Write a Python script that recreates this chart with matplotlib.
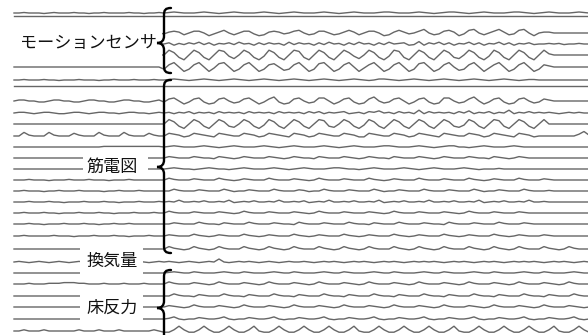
import numpy as np
import matplotlib.pyplot as plt
from matplotlib.path import Path
from matplotlib.patches import PathPatch, Rectangle

plt.rcParams['font.family'] = ['Noto Sans CJK JP', 'DejaVu Sans']

# samples are every 5 px starting at x=14; digit 4 = baseline, each step = gain px
x_start = 14
x_step = 5

# --- motion sensor (left part | right part)
motion_y = [13, 16, 33, 44, 55, 67]
motion_gain = [0.5, 0.0, 0.9, 0.6, 1.2, 1.1]
motion = [
    "44544 43454 44544 34454 44454 43445 | 45654 44565 43456 54445 65434 56544 45654 34565 44456 65444 56543 45665 43456 54445 66543 45654 44565 4",
    "44444 44444 44444 44444 44444 44444 | 44444 44444 44444 44444 44444 44444 44444 44444 44444 44444 44444 44444 44444 44444 44444 44444 44444 4",
    "44444 44444 44444 44444 44444 44444 | 35652 46641 35742 46631 25653 46742 36642 35752 46641 25753 46842 36751 37842 46852 37841 45544 44444 4",
    "44444 44444 44444 44444 44444 44444 | 46253 64736 25463 74526 36452 73645 26374 52637 45263 74562 38264 73625 47362 54736 25463 44545 34454 4",
    "44444 44444 44444 44444 44444 44444 | 48620 48620 48731 48620 38620 48720 48620 48631 48620 38720 48620 48621 48620 38620 48620 48544 44444 4",
    "44444 44444 44444 44444 44444 44444 | 26840 26840 37840 26840 26741 26840 27840 26840 36840 26840 27840 26841 26840 36840 26840 26544 44444 4",
]

# --- EMG
emg_y = [80, 86, 101, 113, 124, 136, 147, 158, 169, 180, 191, 202, 213, 224, 236, 249]
emg_gain = [0.5, 0.0, 1.0, 0.7, 1.1, 0.9, 0.6, 0.7, 0.6, 0.6, 0.6, 0.6, 0.6, 0.6, 0.6, 0.8]
emg = [
    "44544 45443 44454 44344 54445 44454 | 45654 34565 43456 54345 65434 56543 45654 34565 43466 54345 65434 56543 45654 34565 43455 44444 44444 4",
    "44444 44444 44444 44444 44444 44444 | 44444 44444 44444 44444 44444 44444 44444 44444 44444 44444 44444 44444 44444 44444 44444 44444 44444 4",
    "45544 33455 44334 55443 34554 43345 | 36741 36731 26742 36741 36831 26742 37741 36731 26842 36741 36731 27742 36841 36731 26742 36544 44444 4",
    "45543 45543 34554 34554 43455 44345 | 45354 63545 36454 53645 45364 54536 46354 56345 36574 53645 38364 54536 47354 63548 35464 54543 45454 4",
    "44444 44444 44444 44444 44444 44444 | 48620 48620 48621 48620 38620 48620 48721 48620 38620 48620 48620 48621 38620 48720 48620 48444 44444 4",
    "44854 44854 44754 44854 44854 44754 | 47653 47654 37654 47653 47654 37653 47654 47653 37654 47653 47654 37654 47653 47654 37653 44444 44469 5",
    "44444 44444 44444 44455 55555 55555 | 45654 44565 43456 54445 65434 56544 45654 34565 44456 65444 56543 45664 43456 54445 65444 44444 44444 4",
    "44444 44444 44444 44444 44444 44444 | 46544 46544 36543 46544 46543 46544 36544 46543 46544 36544 46543 46544 46544 36543 46544 44444 44444 4",
    "44444 44444 44444 44444 44444 44444 | 45654 43456 54434 56544 45654 34565 44456 65443 45654 44565 43456 54445 65434 44544 44444 44444 44444 4",
    "44454 44344 45444 54443 44454 44444 | 47544 46544 47543 46544 47544 46543 47544 46544 47543 46544 47544 46544 47543 46544 47544 46544 44444 4",
    "44544 43445 44454 44434 45444 54444 | 44754 44654 44753 44654 44754 44653 44754 44654 44753 44654 44754 44654 44753 44654 44754 44544 44444 4",
    "44454 44544 34445 44454 43444 54445 | 45474 45464 45473 45464 45474 45463 45474 45464 45473 45464 45474 45464 45473 45464 45474 45444 44444 4",
    "44544 45443 44454 44544 34445 44454 | 47544 46544 46543 47544 46544 46543 47544 46544 46543 47544 46544 46543 47544 46544 46544 44444 44444 4",
    "44454 43444 54445 44344 54454 44444 | 44654 44754 43654 44754 44654 43754 44654 44754 43654 44754 44654 43754 44654 44754 44654 44444 44444 4",
    "44544 44454 44344 45444 54434 44544 | 46544 47543 46544 47543 46544 47543 46544 47543 46544 47543 46544 47543 46544 47543 46544 46544 44444 4",
    "44444 44444 44444 44444 44444 44444 | 47543 47543 47544 47543 47543 47544 47543 47543 47544 47543 47543 47544 47543 47543 47544 47543 47544 4",
]

# --- ventilation
vent_y = [262]
vent_gain = [0.6]
vent = [
    "45434 54345 43454 34543 45434 54345 | 45434 54345 49434 54543 45434 54454 34545 43454 54345 45434 54545 43454 54345 45434 54545 43454 54345 4",
]

# --- floor reaction force
floor_y = [273, 284, 296, 307, 319, 331]
floor_gain = [0.6, 0.7, 0.7, 0.7, 0.7, 1.2]
floor = [
    "44444 44444 44444 44444 44444 44444 | 45654 46544 45654 46544 45654 46544 45654 46544 45654 46544 45654 46544 45654 46544 45654 46544 45654 4",
    "44454 44555 66655 44454 44544 45444 | 47544 46543 47544 46543 47544 46543 47544 46543 47544 46543 47544 46543 47544 46543 47544 46543 47544 4",
    "44444 44444 44444 44444 44444 44444 | 44754 43654 44754 43654 44754 43654 44754 43654 44754 43654 44754 43654 44754 43654 44754 43654 44754 4",
    "44444 44444 44444 44444 44444 44444 | 46543 47544 46543 47544 46543 47544 46543 47544 46543 47544 46543 47544 46543 47544 46543 47544 46543 4",
    "44444 44444 44444 44444 44444 44444 | 45743 44654 45743 44654 45743 44654 45743 44654 45743 44654 45743 44654 45743 44654 45743 44654 45743 4",
    "44544 45444 44454 44544 45444 44454 | 33585 33585 33585 33584 33585 33585 33585 33584 33585 33585 33585 33584 33585 33585 33585 33584 33585 3",
]

labels = ["モーションセンサ", "筋電図", "換気量", "床反力"]


def decode(s):
    s = s.replace(" ", "").replace("|", "")
    return np.array([int(c) for c in s]) - 4


def brace(ax, x, top, bot, mid, d=7):
    verts = [(x + d, top), (x + d * 0.2, top), (x, top + d * 0.3), (x, top + d),
             (x, mid - d),
             (x, mid - d * 0.4), (x - d * 0.3, mid), (x - d, mid),
             (x - d * 0.3, mid), (x, mid + d * 0.4), (x, mid + d),
             (x, bot - d),
             (x, bot - d * 0.3), (x + d * 0.2, bot), (x + d, bot)]
    codes = [Path.MOVETO] + [Path.CURVE4] * 3 + [Path.LINETO] + [Path.CURVE4] * 6 \
        + [Path.LINETO] + [Path.CURVE4] * 3
    ax.add_patch(PathPatch(Path(verts, codes), fill=False, lw=1.7,
                           edgecolor='black', zorder=4, capstyle='round'))


fig = plt.figure(figsize=(5.88, 3.35), dpi=100)
ax = fig.add_axes([0, 0, 1, 1])
ax.set_xlim(0, 588)
ax.set_ylim(335, 0)
ax.axis('off')

for ys, gains, group in [(motion_y, motion_gain, motion), (emg_y, emg_gain, emg),
                         (vent_y, vent_gain, vent), (floor_y, floor_gain, floor)]:
    for y0, g, s in zip(ys, gains, group):
        lv = decode(s)
        xs = x_start + x_step * np.arange(len(lv))
        ax.plot(xs, y0 - g * lv, color='#666666', lw=1.0, zorder=2,
                solid_joinstyle='round')

# white areas behind the labels
for x0, y0, w, h in [(8, 24, 154, 38), (83, 152, 65, 24), (80, 245, 63, 33), (80, 290, 63, 35)]:
    ax.add_patch(Rectangle((x0, y0), w, h, facecolor='white', edgecolor='none', zorder=3))

ax.text(88, 43, labels[0], fontsize=12.3, ha='center', va='center', zorder=5, color='#111111')
ax.text(112, 167, labels[1], fontsize=12.3, ha='center', va='center', zorder=5, color='#111111')
ax.text(112, 261, labels[2], fontsize=12.3, ha='center', va='center', zorder=5, color='#111111')
ax.text(112, 308, labels[3], fontsize=12.3, ha='center', va='center', zorder=5, color='#111111')

brace(ax, 164, 8, 73, 43)
brace(ax, 164, 80, 253, 167)
brace(ax, 164, 270, 350, 308)

fig.savefig('out.png', dpi=100)
